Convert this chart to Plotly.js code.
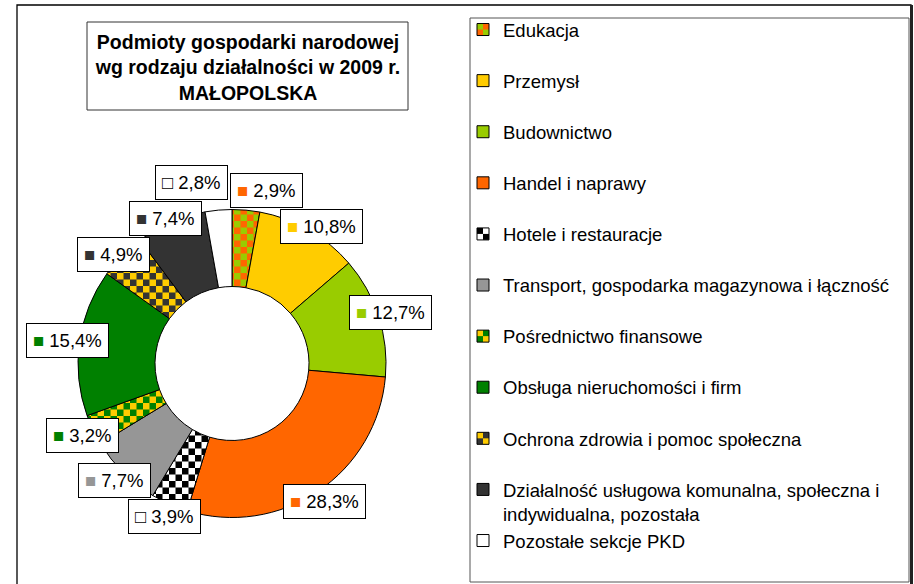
<!DOCTYPE html>
<html>
<head>
<meta charset="utf-8">
<script src="https://cdn.plot.ly/plotly-3.0.1.min.js"></script>
<style>html,body{margin:0;padding:0;background:#fff;}#chart{width:914px;height:584px;}</style>
</head>
<body>
<div id="chart"></div>
<script>
// ---- data ----
const categories = [
  "Edukacja",
  "Przemysł",
  "Budownictwo",
  "Handel i naprawy",
  "Hotele i restauracje",
  "Transport, gospodarka magazynowa i łączność",
  "Pośrednictwo finansowe",
  "Obsługa nieruchomości i firm",
  "Ochrona zdrowia i pomoc społeczna",
  "Działalność usługowa komunalna, społeczna i indywidualna, pozostała",
  "Pozostałe sekcje PKD"
];
const values = [2.9, 10.8, 12.7, 28.3, 3.9, 7.7, 3.2, 15.4, 4.9, 7.4, 2.8];
const legendLabels = [
  "Edukacja",
  "Przemysł",
  "Budownictwo",
  "Handel i naprawy",
  "Hotele i restauracje",
  "Transport, gospodarka magazynowa i łączność",
  "Pośrednictwo finansowe",
  "Obsługa nieruchomości i firm",
  "Ochrona zdrowia i pomoc społeczna",
  "Działalność usługowa komunalna, społeczna i<br>indywidualna, pozostała",
  "Pozostałe sekcje PKD"
];
const sliceColors = ["#FF6600","#FFCC00","#99CC00","#FF6600","#FFFFFF","#969696","#008000","#008000","#333333","#333333","#FFFFFF"];
const patternShapes = ["+","","","","+","","+","","+","",""];
const patternFg = ["#99CC00","#000000","#000000","#000000","#000000","#000000","#FFCC00","#000000","#FFCC00","#000000","#000000"];
const titleText = "Podmioty gospodarki narodowej<br>wg rodzaju działalności w 2009 r.<br>MAŁOPOLSKA";

// ---- layout helpers ----
const W = 914, H = 584;
const FONT = "Liberation Sans, Arial, sans-serif";
const px = x => x / W;
const py = y => 1 - y / H;

const legendTexts = legendLabels.map(l => l.indexOf("<br>") >= 0 ? l : l + "<br>&nbsp;");

// label boxes computed from the data (mid-angle of each slice)
const center = {x: 232, y: 363.5};
const rLab = 166;
const labFont = 18.5, pad = 6;
const ctx = document.createElement("canvas").getContext("2d");
ctx.font = labFont + "px 'Liberation Sans', Arial";
const total = values.reduce((a, b) => a + b, 0);
let cum = 0;
const boxes = values.map((v, i) => {
  const mid = (cum + v / 2) / total * 2 * Math.PI;
  cum += v;
  const pct = v.toFixed(1).replace(".", ",") + "%";
  const white = sliceColors[i].toUpperCase() === "#FFFFFF";
  const glyph = white ? "□" : "■";
  const w = ctx.measureText(glyph + " " + pct).width + 2 * pad + 2;
  return {
    x: center.x + rLab * Math.sin(mid),
    y: center.y - rLab * Math.cos(mid),
    w: w, h: 35,
    text: '<span style="color:' + (white ? "#000000" : sliceColors[i]) + '">' + glyph + '</span> ' + pct
  };
});
// simple de-overlap (horizontal preferred)
for (let it = 0; it < 300; it++) {
  for (let i = 0; i < boxes.length; i++) {
    for (let j = i + 1; j < boxes.length; j++) {
      const a = boxes[i], b = boxes[j];
      const dx = b.x - a.x, dy = b.y - a.y;
      const ox = (a.w + b.w) / 2 + 3 - Math.abs(dx);
      const oy = (a.h + b.h) / 2 + 1 - Math.abs(dy);
      if (ox > 0 && oy > 0) {
        if (ox < 1.5 * oy) {
          const s = dx >= 0 ? 1 : -1;
          a.x -= s * ox / 2;
          b.x += s * ox / 2;
        } else {
          const s = dy >= 0 ? 1 : -1;
          a.y -= s * oy / 2;
          b.y += s * oy / 2;
        }
      }
    }
  }
}

const annotations = boxes.map(b => ({
  xref: "paper", yref: "paper",
  x: px(b.x), y: py(b.y), xanchor: "center", yanchor: "middle",
  text: b.text, showarrow: false,
  font: {family: FONT, size: labFont, color: "#000"},
  bgcolor: "#FFFFFF", bordercolor: "#000000", borderwidth: 1, borderpad: pad
}));

const shapes = [
  // outer frame
  {type: "rect", xref: "paper", yref: "paper", x0: px(17), x1: px(911), y0: py(5), y1: py(610),
   line: {color: "#000", width: 1.3}, fillcolor: "rgba(0,0,0,0)", layer: "below"},
  {type: "line", xref: "paper", yref: "paper", x0: px(911.5), x1: px(911.5), y0: py(5), y1: py(610),
   line: {color: "#222", width: 3}},
  // title box
  {type: "rect", xref: "paper", yref: "paper", x0: px(87), x1: px(408), y0: py(22), y1: py(110),
   line: {color: "#333", width: 1}, fillcolor: "rgba(0,0,0,0)", layer: "below"},
  // legend box
  {type: "rect", xref: "paper", yref: "paper", x0: px(470), x1: px(909), y0: py(18), y1: py(582),
   line: {color: "#555", width: 1}, fillcolor: "rgba(0,0,0,0)", layer: "below"}
];

const trace = {
  type: "pie",
  labels: legendTexts,
  values: values,
  sort: false,
  direction: "clockwise",
  rotation: 0,
  hole: 0.5,
  textinfo: "none",
  hoverinfo: "label+percent",
  domain: {x: [px(78), px(386)], y: [py(517.5), py(209.5)]},
  marker: {
    colors: sliceColors,
    line: {color: "#000000", width: 1},
    pattern: {shape: patternShapes, fgcolor: patternFg, bgcolor: sliceColors, size: 13, solidity: 0.5, fgopacity: 1}
  }
};

const layout = {
  width: W, height: H,
  margin: {l: 0, r: 0, t: 0, b: 0},
  paper_bgcolor: "#FFFFFF",
  font: {family: FONT, color: "#000"},
  title: {
    text: titleText,
    font: {family: FONT, size: 19.5, color: "#000", weight: "bold"},
    x: px(248), xanchor: "center", xref: "paper",
    y: py(49), yanchor: "middle", yref: "container"
  },
  showlegend: true,
  legend: {
    x: px(463), xanchor: "left", y: py(20), yanchor: "top",
    font: {family: FONT, size: 18.5, color: "#000"},
    bgcolor: "rgba(0,0,0,0)", borderwidth: 0, valign: "top", traceorder: "normal"
  },
  shapes: shapes,
  annotations: annotations
};

function checker(gd) {
  gd.querySelectorAll("pattern").forEach(p => {
    const w = parseFloat(p.getAttribute("width"));
    const path = p.querySelector("path");
    if (!path || !isFinite(w)) return;
    const c = w / 2;
    const col = path.getAttribute("stroke") || path.style.stroke || "#000";
    path.setAttribute("d", "M0,0H" + c + "V" + c + "H0Z M" + c + "," + c + "H" + w + "V" + w + "H" + c + "Z");
    path.setAttribute("fill", col);
    path.style.fill = col;
    path.setAttribute("stroke", "none");
    path.style.stroke = "none";
    path.style.strokeWidth = "0";
  });
}

Plotly.newPlot("chart", [trace], layout, {displayModeBar: false, staticPlot: true}).then(gd => checker(gd));
</script>
</body>
</html>
